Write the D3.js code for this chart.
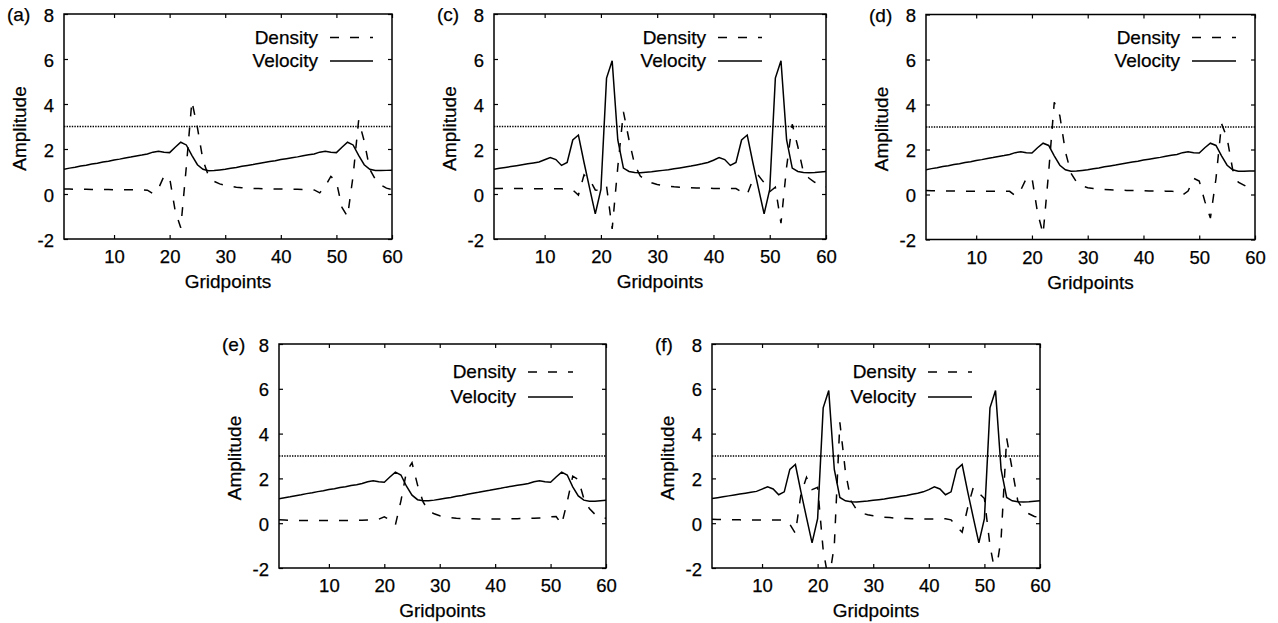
<!DOCTYPE html>
<html><head><meta charset="utf-8">
<script src="https://cdn.jsdelivr.net/npm/d3@7"></script>
<style>
body{margin:0;background:#fff;}
svg{display:block;font-family:"Liberation Sans",Arial,Helvetica,sans-serif;}
svg text{stroke:#000;stroke-width:0.25px;}
</style></head><body>
<svg id="chart" width="1278" height="623"></svg>
<script>
const gridpoints = d3.range(1, 61);
const xTicks = [10, 20, 30, 40, 50, 60];
const yTicks = [-2, 0, 2, 4, 6, 8];
const threshold = 3;
const seriesNames = ["Density", "Velocity"];

const velA = [1.10,1.15,1.19,1.24,1.28,1.33,1.37,1.42,1.46,1.51,
  1.55,1.60,1.64,1.69,1.73,1.78,1.86,1.90,1.86,1.84,
  2.08,2.30,2.18,1.72,1.30,1.10,1.03,1.04,1.07,1.10,
  1.14,1.18,1.23,1.27,1.31,1.36,1.40,1.44,1.48,1.53,
  1.57,1.61,1.65,1.70,1.74,1.78,1.86,1.90,1.86,1.84,
  2.08,2.30,2.18,1.72,1.30,1.10,1.04,1.04,1.05,1.06];
const denA = [0.22,0.22,0.21,0.21,0.21,0.20,0.20,0.20,0.20,0.19,
  0.19,0.19,0.19,0.19,0.19,0.17,0.02,0.25,0.80,0.72,
  -0.75,-1.50,1.20,4.12,2.95,1.50,0.80,0.56,0.45,0.38,
  0.34,0.30,0.28,0.26,0.25,0.24,0.23,0.23,0.22,0.22,
  0.21,0.21,0.21,0.20,0.20,0.18,0.05,0.35,0.78,0.55,
  -0.60,-1.00,0.80,3.28,2.35,1.10,0.65,0.40,0.26,0.20];

const velC = [1.10,1.14,1.18,1.22,1.26,1.30,1.34,1.38,1.42,1.52,
  1.62,1.53,1.27,1.40,2.40,2.62,1.40,0.25,-0.88,0.20,
  5.15,5.92,2.40,1.15,1.00,0.96,0.95,0.97,0.99,1.02,
  1.05,1.08,1.12,1.16,1.20,1.24,1.29,1.34,1.40,1.50,
  1.62,1.53,1.27,1.40,2.40,2.62,1.40,0.25,-0.88,0.20,
  5.15,5.92,2.40,1.15,1.00,0.96,0.95,0.96,0.98,1.00];
const denC = [0.25,0.25,0.24,0.24,0.24,0.24,0.23,0.23,0.23,0.23,
  0.23,0.23,0.23,0.22,0.18,-0.05,0.85,0.65,0.18,0.15,
  0.35,-1.55,1.20,3.65,2.40,1.30,0.80,0.60,0.50,0.42,
  0.38,0.35,0.32,0.30,0.29,0.28,0.27,0.26,0.26,0.25,
  0.25,0.25,0.25,0.24,0.10,-0.02,0.65,0.82,0.50,0.10,
  0.30,-1.30,1.20,3.10,2.10,0.95,0.70,0.52,0.40,0.32];

const velD = [1.10,1.15,1.19,1.24,1.28,1.33,1.37,1.42,1.46,1.51,
  1.55,1.60,1.64,1.69,1.73,1.78,1.86,1.90,1.86,1.84,
  2.08,2.28,2.18,1.72,1.30,1.10,1.03,1.04,1.07,1.10,
  1.14,1.18,1.23,1.27,1.31,1.36,1.40,1.44,1.48,1.53,
  1.57,1.61,1.65,1.70,1.74,1.78,1.86,1.90,1.86,1.84,
  2.08,2.28,2.18,1.72,1.30,1.10,1.03,1.03,1.04,1.05];
const denD = [0.18,0.17,0.17,0.16,0.16,0.16,0.15,0.15,0.15,0.15,
  0.15,0.15,0.15,0.15,0.15,0.14,-0.05,0.20,0.72,0.75,
  -0.80,-1.75,1.00,4.10,3.50,1.90,0.95,0.55,0.38,0.30,
  0.27,0.24,0.22,0.21,0.20,0.19,0.18,0.18,0.17,0.17,
  0.16,0.16,0.16,0.15,0.15,0.12,-0.02,0.15,0.72,0.60,
  -0.30,-1.05,0.70,3.15,2.50,1.10,0.55,0.42,0.28,0.20];

const velE = [1.09,1.14,1.18,1.23,1.27,1.32,1.36,1.41,1.45,1.50,
  1.54,1.59,1.63,1.68,1.72,1.77,1.85,1.89,1.85,1.83,
  2.06,2.28,2.15,1.65,1.25,1.05,1.00,1.00,1.03,1.07,
  1.11,1.15,1.20,1.24,1.29,1.34,1.38,1.43,1.47,1.52,
  1.56,1.61,1.65,1.69,1.73,1.77,1.85,1.89,1.85,1.83,
  2.06,2.28,2.15,1.62,1.22,1.03,0.98,0.98,1.00,1.02];
const denE = [0.15,0.14,0.13,0.13,0.12,0.12,0.12,0.12,0.12,0.12,
  0.12,0.12,0.12,0.12,0.13,0.13,0.14,0.15,0.18,0.28,
  0.15,-0.08,1.00,2.30,2.70,1.70,0.95,0.55,0.42,0.33,
  0.28,0.25,0.22,0.21,0.20,0.20,0.19,0.19,0.19,0.19,
  0.19,0.19,0.20,0.20,0.21,0.21,0.22,0.23,0.24,0.28,
  0.30,-0.05,0.95,2.10,1.95,1.10,0.65,0.40,0.28,0.22];

const velF = [1.10,1.14,1.18,1.22,1.26,1.30,1.34,1.38,1.42,1.52,
  1.62,1.53,1.27,1.40,2.40,2.62,1.40,0.25,-0.88,0.20,
  5.15,5.92,2.40,1.15,1.00,0.96,0.95,0.97,0.99,1.02,
  1.05,1.08,1.12,1.16,1.20,1.24,1.29,1.34,1.40,1.50,
  1.62,1.53,1.27,1.40,2.40,2.62,1.40,0.25,-0.88,0.20,
  5.15,5.92,2.40,1.15,1.00,0.96,0.95,0.96,0.98,1.00];
const denF = [0.18,0.17,0.16,0.15,0.15,0.15,0.14,0.14,0.14,0.14,
  0.14,0.14,0.14,0.14,-0.05,-0.45,1.30,2.05,1.50,1.60,
  -1.20,-2.60,-1.00,4.50,2.30,1.00,0.60,0.45,0.38,0.33,
  0.30,0.27,0.25,0.23,0.22,0.21,0.20,0.20,0.19,0.19,
  0.19,0.19,0.20,0.15,-0.15,-0.40,0.70,1.60,1.35,1.10,
  -1.00,-2.30,-0.70,3.80,2.40,1.00,0.60,0.42,0.30,0.25];

const panels = [
  {label:"(a)", vel:velA, den:denA, l:64,  r:392,  t:14,  b:239, kx0:330, kx1:373, ky0:37.5, ky1:61},
  {label:"(c)", vel:velC, den:denC, l:494, r:826,  t:14,  b:239, kx0:718, kx1:762, ky0:37.5, ky1:61},
  {label:"(d)", vel:velD, den:denD, l:926, r:1255, t:14.5,b:239.5, kx0:1192, kx1:1236, ky0:37.5, ky1:61},
  {label:"(e)", vel:velE, den:denE, l:279, r:606,  t:344, b:568, kx0:528, kx1:573, ky0:372, ky1:397},
  {label:"(f)", vel:velF, den:denF, l:712, r:1040, t:344, b:568, kx0:928, kx1:972, ky0:372, ky1:397}
];

const svg = d3.select("#chart");
svg.append("rect").attr("width",1278).attr("height",623).attr("fill","#fff").attr("stroke","none");
const defs = svg.append("defs");
const TICK_FS = 18.5, LAB_FS = 19;
const DEN_DASH = "9,11";

panels.forEach((p, k) => {
  const x = d3.scaleLinear().domain([1, 60]).range([p.l, p.r]);
  const y = d3.scaleLinear().domain([-2, 8]).range([p.b, p.t]);
  const g = svg.append("g");
  const cid = "clip" + k;
  defs.append("clipPath").attr("id", cid).append("rect")
    .attr("x", p.l).attr("y", p.t).attr("width", p.r - p.l).attr("height", p.b - p.t);

  const plot = g.append("g").attr("clip-path", `url(#${cid})`);
  plot.append("line")
    .attr("x1", x(1)).attr("x2", x(60)).attr("y1", y(threshold)).attr("y2", y(threshold))
    .attr("stroke", "#000").attr("stroke-width", 1.4).attr("stroke-dasharray", "1.4,1.2");

  const line = d3.line().x((d, i) => x(gridpoints[i])).y(d => y(d));
  plot.append("path").attr("d", line(p.den)).attr("fill", "none")
    .attr("stroke", "#000").attr("stroke-width", 1.5).attr("stroke-dasharray", DEN_DASH);
  plot.append("path").attr("d", line(p.vel)).attr("fill", "none")
    .attr("stroke", "#000").attr("stroke-width", 1.5).attr("stroke-linejoin", "miter");

  const fmt = d => String(d);
  const axB = g.append("g").attr("transform", `translate(0,${p.b})`)
    .call(d3.axisBottom(x).tickValues(xTicks).tickFormat(fmt).tickSizeInner(-4).tickSizeOuter(0).tickPadding(11));
  const axT = g.append("g").attr("transform", `translate(0,${p.t})`)
    .call(d3.axisTop(x).tickValues(xTicks).tickFormat("").tickSizeInner(-4).tickSizeOuter(0));
  const axL = g.append("g").attr("transform", `translate(${p.l},0)`)
    .call(d3.axisLeft(y).tickValues(yTicks).tickFormat(fmt).tickSizeInner(-4).tickSizeOuter(0).tickPadding(10));
  const axR = g.append("g").attr("transform", `translate(${p.r},0)`)
    .call(d3.axisRight(y).tickValues(yTicks).tickFormat("").tickSizeInner(-4).tickSizeOuter(0));
  [axB, axT, axL, axR].forEach(a => {
    a.select(".domain").remove();
    a.attr("font-family", null).attr("font-size", TICK_FS);
    a.selectAll("line").attr("stroke", "#000").attr("stroke-width", 1.2);
    a.selectAll("text").attr("fill", "#000");
  });
  axL.selectAll("text").attr("dy", "0.38em");

  g.append("rect").attr("x", p.l).attr("y", p.t).attr("width", p.r - p.l).attr("height", p.b - p.t)
    .attr("fill", "none").attr("stroke", "#000").attr("stroke-width", 1.5);

  g.append("text").attr("x", (p.l + p.r) / 2).attr("y", p.b + 49)
    .attr("text-anchor", "middle").attr("font-size", LAB_FS).text("Gridpoints");
  g.append("text").attr("transform", `translate(${p.l - 38},${(p.t + p.b) / 2 + 2}) rotate(-90)`)
    .attr("text-anchor", "middle").attr("font-size", LAB_FS).text("Amplitude");
  g.append("text").attr("x", p.l - 57).attr("y", y(8) + 7)
    .attr("font-size", LAB_FS).text(p.label);

  const keyRows = [{name: seriesNames[0], y: p.ky0, dash: DEN_DASH}, {name: seriesNames[1], y: p.ky1, dash: null}];
  keyRows.forEach(r => {
    g.append("text").attr("x", p.kx0 - 12).attr("y", r.y).attr("dy", "0.32em")
      .attr("text-anchor", "end").attr("font-size", LAB_FS).text(r.name);
    g.append("line").attr("x1", p.kx0).attr("x2", p.kx1).attr("y1", r.y).attr("y2", r.y)
      .attr("stroke", "#000").attr("stroke-width", 1.5).attr("stroke-dasharray", r.dash);
  });
});
</script>
</body></html>
